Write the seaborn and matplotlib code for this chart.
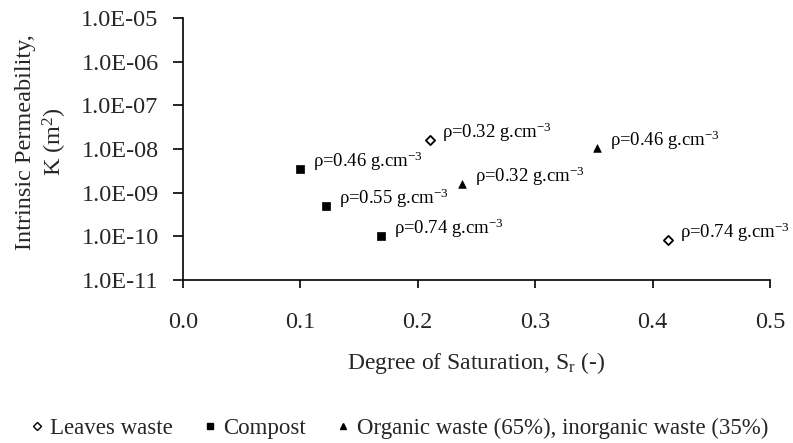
import matplotlib
matplotlib.use("Agg")
import matplotlib.pyplot as plt
import seaborn as sns
import pandas as pd
import numpy as np
from matplotlib.lines import Line2D

# Data
leaves_x = [0.21, 0.413]
leaves_y = [1.6e-8, 8.3e-11]
leaves_lbl = ["0.32", "0.74"]

compost_x = [0.100, 0.122, 0.169]
compost_y = [3.5e-9, 5.0e-10, 1.0e-10]
compost_lbl = ["0.46", "0.55", "0.74"]

organic_x = [0.238, 0.353]
organic_y = [1.6e-9, 1.05e-8]
organic_lbl = ["0.32", "0.46"]

series_names = ["Leaves waste", "Compost", "Organic waste (65%), inorganic waste (35%)"]
y_ticks = [1e-11, 1e-10, 1e-9, 1e-8, 1e-7, 1e-6, 1e-5]
y_tick_labels = ["1.0E-11", "1.0E-10", "1.0E-09", "1.0E-08", "1.0E-07", "1.0E-06", "1.0E-05"]
x_ticks = [0.0, 0.1, 0.2, 0.3, 0.4, 0.5]
x_tick_labels = ["0.0", "0.1", "0.2", "0.3", "0.4", "0.5"]

sns.set_theme(style="ticks")
plt.rcParams["font.family"] = ["Liberation Serif", "DejaVu Serif"]
plt.rcParams["mathtext.fontset"] = "custom"
plt.rcParams["mathtext.rm"] = "Liberation Serif"
plt.rcParams["mathtext.it"] = "Liberation Serif:italic"

df = pd.DataFrame({
    "x": leaves_x + compost_x + organic_x,
    "y": leaves_y + compost_y + organic_y,
    "series": [series_names[0]] * len(leaves_x) + [series_names[1]] * len(compost_x) + [series_names[2]] * len(organic_x),
    "lbl": leaves_lbl + compost_lbl + organic_lbl,
})

fig = plt.figure(figsize=(7.93, 4.43), dpi=100)
ax = fig.add_axes([183/793, 1 - 280/443, (770 - 183)/793, (280 - 18)/443])

marker_map = {series_names[0]: "D", series_names[1]: "s", series_names[2]: "^"}
for name in series_names:
    sub = df[df.series == name]
    if name == series_names[0]:
        sns.scatterplot(data=sub, x="x", y="y", marker="D", s=22, facecolor="white",
                        edgecolor="black", linewidth=1.3, ax=ax, legend=False)
    else:
        sns.scatterplot(data=sub, x="x", y="y", marker=marker_map[name], s=30,
                        color="black", edgecolor="black", linewidth=0.5, ax=ax, legend=False)

for _, r in df.iterrows():
    ax.annotate("ρ=" + r.lbl + " g.cm$^{\\mathrm{-3}}$", (r.x, r.y), xytext=(9, 1.5),
                textcoords="offset points", ha="left", va="baseline", fontsize=13.5, color="black")

ax.set_yscale("log")
ax.set_ylim(1e-11, 1e-5)
ax.set_xlim(0, 0.5)
ax.set_yticks(y_ticks)
ax.set_yticklabels(y_tick_labels)
ax.yaxis.set_minor_locator(matplotlib.ticker.NullLocator())
ax.set_xticks(x_ticks)
ax.set_xticklabels(x_tick_labels)
ax.tick_params(axis="both", labelsize=17.5, direction="out", width=1.2, color="black")
ax.tick_params(axis="y", length=7.5, pad=10)
ax.tick_params(axis="x", length=6, pad=17)
for s in ["top", "right"]:
    ax.spines[s].set_visible(False)
for s in ["left", "bottom"]:
    ax.spines[s].set_linewidth(1.2)
    ax.spines[s].set_color("black")

ax.set_xlabel("Degree of Saturation, S$_\\mathrm{r}$ (-)", fontsize=17, labelpad=12)
ax.set_ylabel("Intrinsic Permeability,\nK (m$^\\mathrm{2}$)", fontsize=17.5)
ax.yaxis.set_label_coords(-0.195, 0.527)

handles = [
    Line2D([], [], marker="D", ls="none", markerfacecolor="white", markeredgecolor="black", markersize=4.5, markeredgewidth=1),
    Line2D([], [], marker="s", ls="none", color="black", markersize=5),
    Line2D([], [], marker="^", ls="none", color="black", markersize=5),
]
fig.legend(handles, series_names, loc="center", bbox_to_anchor=(0.5, 1 - 428/443), ncol=3,
           frameon=False, fontsize=16.5, handletextpad=0.1, columnspacing=1.1, handlelength=1)

fig.savefig("out.png", dpi=100)
